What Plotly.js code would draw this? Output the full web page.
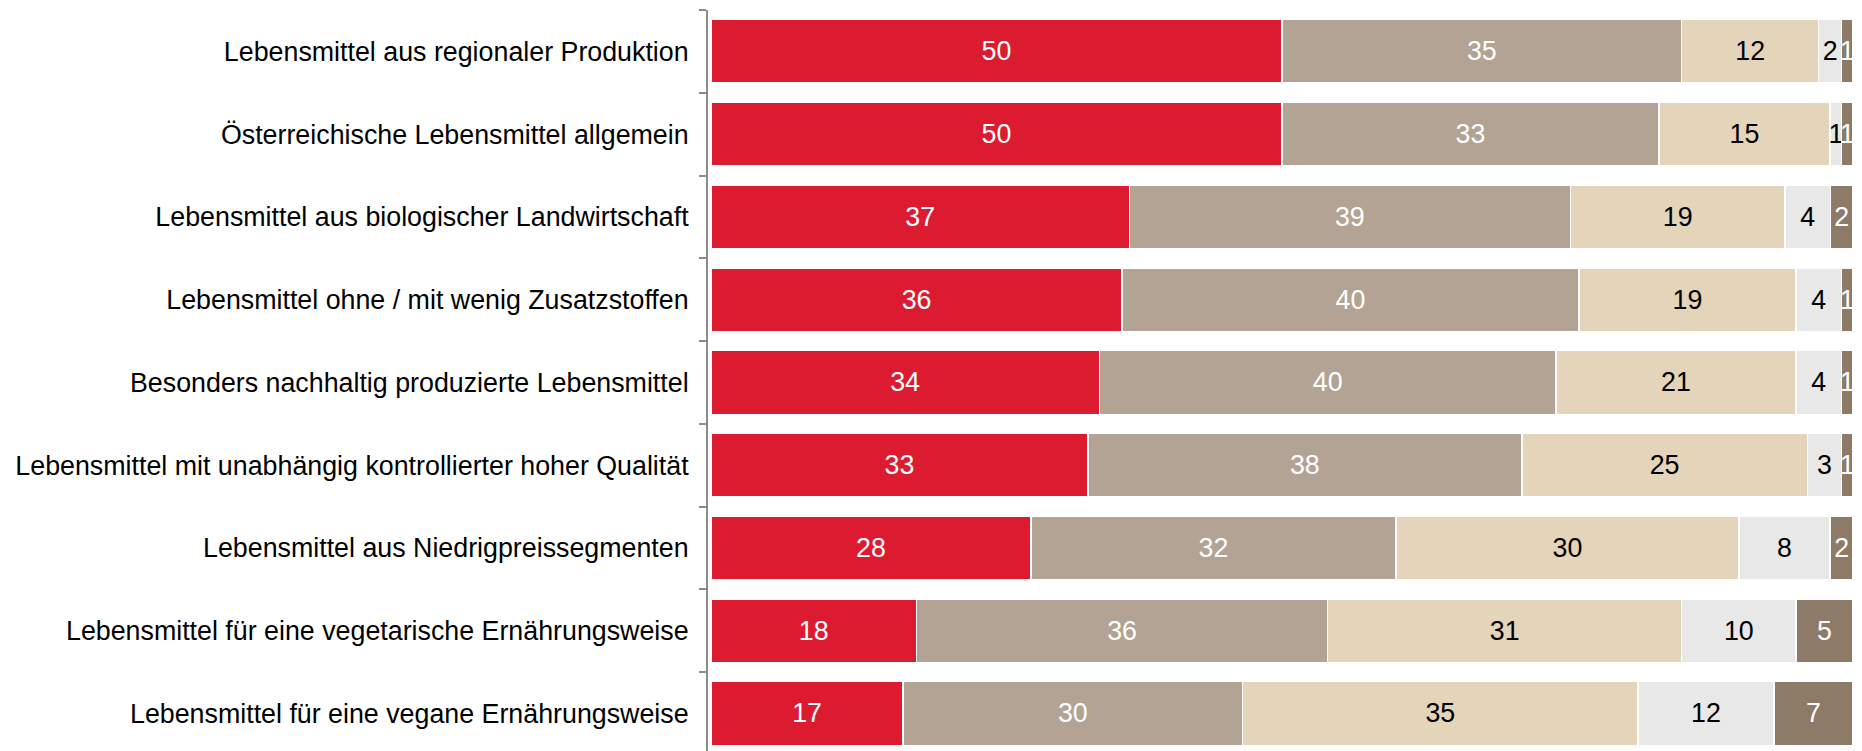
<!DOCTYPE html>
<html>
<head>
<meta charset="utf-8">
<script src="https://cdn.plot.ly/plotly-3.0.1.min.js"></script>
<style>
  html, body { margin: 0; padding: 0; background: #fff; }
  #chart { width: 1862px; height: 751px; }
</style>
</head>
<body>
<div id="chart"></div>
<script>
const categories = [
  "Lebensmittel aus regionaler Produktion",
  "Österreichische Lebensmittel allgemein",
  "Lebensmittel aus biologischer Landwirtschaft",
  "Lebensmittel ohne / mit wenig Zusatzstoffen",
  "Besonders nachhaltig produzierte Lebensmittel",
  "Lebensmittel mit unabhängig kontrollierter hoher Qualität",
  "Lebensmittel aus Niedrigpreissegmenten",
  "Lebensmittel für eine vegetarische Ernährungsweise",
  "Lebensmittel für eine vegane Ernährungsweise"
];
const seriesNames = ["sehr wichtig", "eher wichtig", "weniger wichtig", "gar nicht wichtig", "weiß nicht / keine Angabe"];
const s1 = [50, 50, 37, 36, 34, 33, 28, 18, 17];
const s2 = [35, 33, 39, 40, 40, 38, 32, 36, 30];
const s3 = [12, 15, 19, 19, 21, 25, 30, 31, 35];
const s4 = [2, 1, 4, 4, 4, 3, 8, 10, 12];
const s5 = [1, 1, 2, 1, 1, 1, 2, 5, 7];
const colors = ["#DC1B30", "#B3A394", "#E3D4BA", "#E8E8E8", "#8D7A67"];
const textColors = ["#ffffff", "#ffffff", "#000000", "#000000", "#ffffff"];

const allSeries = [s1, s2, s3, s4, s5];
const traces = allSeries.map((vals, i) => ({
  type: "bar",
  orientation: "h",
  name: seriesNames[i],
  y: categories,
  x: vals,
  text: vals.map(String),
  texttemplate: "%{text}",
  textposition: "inside",
  insidetextanchor: "middle",
  textangle: 0,
  constraintext: "none",
  cliponaxis: false,
  textfont: { family: "Liberation Sans, Arial, sans-serif", size: 26.8, color: textColors[i] },
  marker: { color: colors[i], line: { color: "#ffffff", width: 1.5 } },
  hoverinfo: "skip"
}));

const layout = {
  width: 1862,
  height: 751,
  margin: { l: 708, r: 9, t: 9.6, b: 0, pad: 0 },
  barmode: "stack",
  barnorm: "percent",
  bargap: 0.23,
  showlegend: false,
  paper_bgcolor: "#ffffff",
  plot_bgcolor: "#ffffff",
  font: { family: "Liberation Sans, Arial, sans-serif", size: 26.8, color: "#000000" },
  xaxis: {
    range: [-0.263, 100],
    visible: false,
    fixedrange: true
  },
  yaxis: {
    type: "category",
    categoryorder: "array",
    categoryarray: categories,
    range: [8.454, -0.5],
    showline: true,
    linecolor: "#8c8c8c",
    linewidth: 2,
    ticks: "outside",
    tickson: "boundaries",
    ticklen: 7,
    tickwidth: 2,
    tickcolor: "#8c8c8c",
    ticklabelstandoff: 12,
    showgrid: false,
    zeroline: false,
    tickfont: { family: "Liberation Sans, Arial, sans-serif", size: 26.8, color: "#000000" },
    fixedrange: true
  }
};

Plotly.newPlot("chart", traces, layout, { displayModeBar: false, staticPlot: true });
</script>
</body>
</html>
